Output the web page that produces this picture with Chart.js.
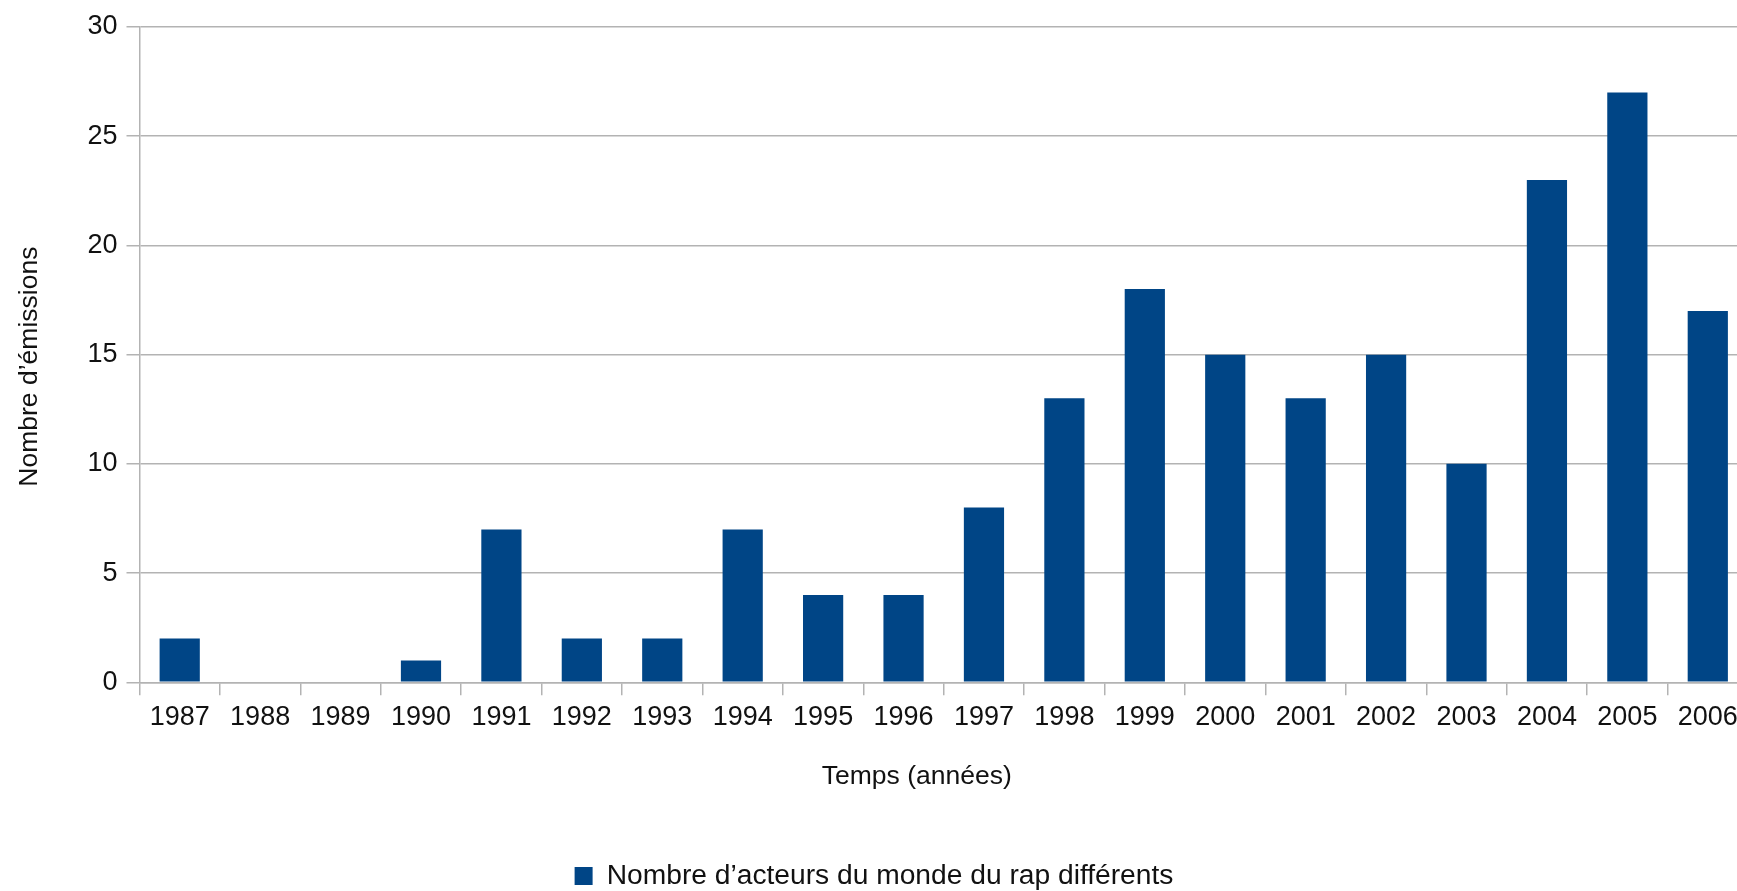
<!DOCTYPE html>
<html>
<head>
<meta charset="utf-8">
<script src="https://cdn.jsdelivr.net/npm/chart.js@4/dist/chart.umd.min.js"></script>
<style>
  html, body { margin: 0; padding: 0; background: #fff; overflow: hidden; }
  #wrap { width: 1737px; height: 891px; overflow: hidden; position: relative; }
  canvas { display: block; }
</style>
</head>
<body>
<div id="wrap"><canvas id="c" width="1751" height="891"></canvas></div>
<script>
const categories = ['1987','1988','1989','1990','1991','1992','1993','1994','1995','1996','1997','1998','1999','2000','2001','2002','2003','2004','2005','2006'];
const acteurs = [2, 0, 0, 1, 7, 2, 2, 7, 4, 4, 8, 13, 18, 15, 13, 15, 10, 23, 27, 17];
const seriesLabel = 'Nombre d\u2019acteurs du monde du rap différents';
const xTitle = 'Temps (années)';
const yTitle = 'Nombre d\u2019émissions';
const yTicks = { min: 0, max: 30, step: 5 };

const FONT = '"Liberation Sans", Arial, sans-serif';
const TXT = '#111111';
const GRID = '#b3b3b3';

const axisTitles = {
  id: 'axisTitles',
  afterDraw(chart) {
    const { ctx, chartArea: a } = chart;
    ctx.save();
    ctx.fillStyle = TXT;
    ctx.font = '26.5px ' + FONT;
    ctx.textAlign = 'center';
    ctx.textBaseline = 'middle';
    ctx.fillText(xTitle, (a.left + a.right) / 2 - 27, a.bottom + 94.5);
    ctx.translate(30, (a.top + a.bottom) / 2 + 12);
    ctx.rotate(-Math.PI / 2);
    ctx.fillText(yTitle, 0, 0);
    ctx.restore();
  }
};

new Chart(document.getElementById('c'), {
  type: 'bar',
  data: {
    labels: categories,
    datasets: [{
      label: seriesLabel,
      data: acteurs,
      backgroundColor: '#004586',
      borderWidth: 0,
      barPercentage: 1.0,
      categoryPercentage: 0.5
    }]
  },
  options: {
    responsive: false,
    devicePixelRatio: 1,
    animation: false,
    layout: { padding: { top: 27, right: 3, bottom: -9, left: 0 } },
    plugins: {
      tooltip: { enabled: false },
      legend: {
        position: 'bottom',
        labels: {
          font: { family: FONT, size: 28.2 },
          color: TXT,
          boxWidth: 18,
          boxHeight: 18,
          padding: 2
        }
      }
    },
    scales: {
      x: {
        offset: true,
        afterFit(s) { s.height = 177.5; },
        grid: {
          offset: true,
          drawOnChartArea: false,
          color: GRID,
          lineWidth: 1.5,
          tickLength: 13,
          tickColor: GRID
        },
        border: { color: GRID, width: 1.5 },
        ticks: {
          font: { family: FONT, size: 27 },
          color: TXT,
          padding: 6.5,
          maxRotation: 0,
          autoSkip: false
        }
      },
      y: {
        min: yTicks.min,
        max: yTicks.max,
        afterFit(s) { s.width = 139.5; },
        grid: {
          color: GRID,
          lineWidth: 1.5,
          tickLength: 13,
          tickColor: GRID
        },
        border: { color: GRID, width: 1.5 },
        ticks: {
          stepSize: yTicks.step,
          font: { family: FONT, size: 27 },
          color: TXT,
          padding: 9
        }
      }
    }
  },
  plugins: [axisTitles]
});
</script>
</body>
</html>
